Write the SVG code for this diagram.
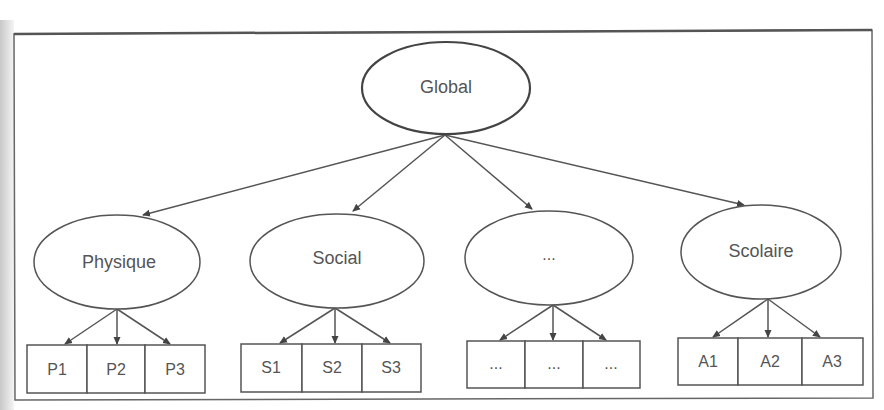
<svg xmlns="http://www.w3.org/2000/svg" width="884" height="410" viewBox="0 0 884 410">
<defs>
<marker id="ah" markerWidth="8" markerHeight="8" refX="7" refY="4" orient="auto" markerUnits="userSpaceOnUse">
<path d="M0,0.5 L8,4 L0,7.5 z" fill="#444"/>
</marker>
<linearGradient id="shade" x1="0" x2="1" y1="0" y2="0">
<stop offset="0" stop-color="#c8c8c8"/>
<stop offset="1" stop-color="#f4f4f4"/>
</linearGradient>
</defs>
<style>
.node ellipse{fill:#fff;stroke:#555;stroke-width:1.5}
.box rect{fill:#fff;stroke:#555;stroke-width:1.5}
.lbl{font-family:"Liberation Sans",Arial,sans-serif;font-size:18px;fill:#555;text-anchor:middle;dominant-baseline:central}
.sm{font-size:16px}
.conn line{stroke:#555;stroke-width:1.5;marker-end:url(#ah)}
</style>
<rect x="0" y="0" width="884" height="410" fill="#fff"/>
<rect x="0" y="20" width="14" height="390" fill="url(#shade)"/>
<path d="M14,34 L872,30 L873,398 L15,400 Z" fill="#fff" stroke="#666" stroke-width="1.5"/>
<line x1="14" y1="34" x2="872" y2="30" stroke="#555" stroke-width="2.5"/>

<g id="connectors" class="conn">
<line x1="445" y1="135" x2="143" y2="215"/>
<line x1="445" y1="135" x2="353" y2="211"/>
<line x1="445" y1="135" x2="532" y2="209"/>
<line x1="445" y1="135" x2="744" y2="205"/>
<line x1="117" y1="309" x2="65" y2="344"/>
<line x1="117" y1="309" x2="117" y2="344"/>
<line x1="117" y1="309" x2="170" y2="344"/>
<line x1="335" y1="308" x2="280" y2="343"/>
<line x1="335" y1="308" x2="335" y2="343"/>
<line x1="335" y1="308" x2="390" y2="343"/>
<line x1="553" y1="305" x2="500" y2="340"/>
<line x1="553" y1="305" x2="553" y2="340"/>
<line x1="553" y1="305" x2="606" y2="340"/>
<line x1="768" y1="299" x2="713" y2="337"/>
<line x1="768" y1="299" x2="768" y2="337"/>
<line x1="768" y1="299" x2="820" y2="337"/>
</g>

<g id="global" class="node">
<ellipse cx="446" cy="88" rx="84" ry="46" style="stroke-width:2.2;stroke:#444"/>
<text class="lbl" x="446" y="87">Global</text>
</g>
<g id="physique" class="node">
<ellipse cx="117" cy="262" rx="83" ry="47"/>
<text class="lbl" x="119" y="262">Physique</text>
</g>
<g id="social" class="node">
<ellipse cx="337" cy="261" rx="87" ry="47"/>
<text class="lbl" x="337" y="258">Social</text>
</g>
<g id="autres" class="node">
<ellipse cx="549" cy="258" rx="84" ry="47"/>
<text class="lbl sm" x="549" y="254">...</text>
</g>
<g id="scolaire" class="node">
<ellipse cx="761" cy="252" rx="80" ry="47"/>
<text class="lbl" x="761" y="251">Scolaire</text>
</g>

<g id="P1" class="box"><rect x="27" y="345" width="60" height="48"/><text class="lbl sm" x="57" y="369">P1</text></g>
<g id="P2" class="box"><rect x="87" y="345" width="58" height="48"/><text class="lbl sm" x="116" y="369">P2</text></g>
<g id="P3" class="box"><rect x="145" y="345" width="60" height="48"/><text class="lbl sm" x="175" y="369">P3</text></g>

<g id="S1" class="box"><rect x="241" y="344" width="61" height="48"/><text class="lbl sm" x="271" y="367">S1</text></g>
<g id="S2" class="box"><rect x="302" y="344" width="60" height="48"/><text class="lbl sm" x="332" y="367">S2</text></g>
<g id="S3" class="box"><rect x="362" y="344" width="59" height="48"/><text class="lbl sm" x="391" y="367">S3</text></g>

<g id="D1" class="box"><rect x="467" y="341" width="58" height="47"/><text class="lbl sm" x="496" y="363">...</text></g>
<g id="D2" class="box"><rect x="525" y="341" width="58" height="47"/><text class="lbl sm" x="554" y="363">...</text></g>
<g id="D3" class="box"><rect x="583" y="341" width="57" height="47"/><text class="lbl sm" x="611" y="363">...</text></g>

<g id="A1" class="box"><rect x="678" y="338" width="60" height="47"/><text class="lbl sm" x="708" y="361">A1</text></g>
<g id="A2" class="box"><rect x="738" y="338" width="64" height="47"/><text class="lbl sm" x="770" y="361">A2</text></g>
<g id="A3" class="box"><rect x="802" y="338" width="61" height="47"/><text class="lbl sm" x="832" y="361">A3</text></g>
</svg>
